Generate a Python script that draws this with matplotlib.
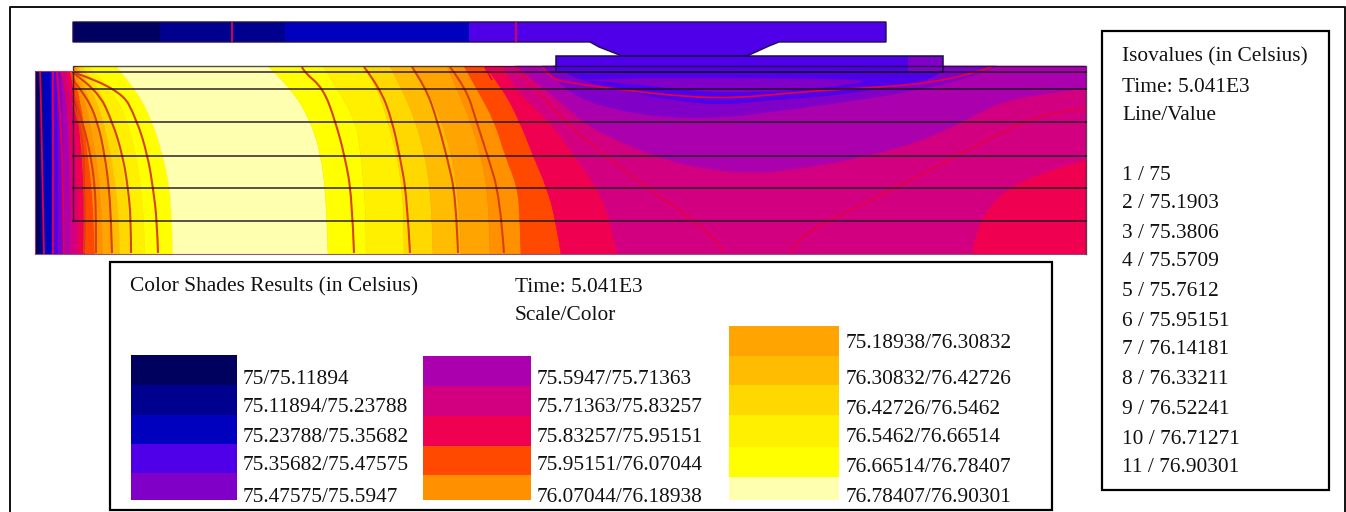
import matplotlib
matplotlib.use('Agg')
import matplotlib.pyplot as plt
from matplotlib.patches import PathPatch, Polygon, Rectangle
from matplotlib.path import Path

plt.rcParams['font.family'] = ['Liberation Serif', 'DejaVu Serif']

# colour shades, lowest to highest
shade_colors = ['#00005f', '#00008f', '#0000bf', '#4f00e8', '#8000c8', '#aa00ae',
                '#d20080', '#f00050', '#ff4800', '#ff9000', '#ffa400', '#ffbc00',
                '#ffd800', '#fff000', '#ffff00', '#ffffb0']

shade_labels_1 = ['75/75.11894', '75.11894/75.23788', '75.23788/75.35682',
                  '75.35682/75.47575', '75.47575/75.5947']
shade_labels_2 = ['75.5947/75.71363', '75.71363/75.83257', '75.83257/75.95151',
                  '75.95151/76.07044', '76.07044/76.18938']
shade_labels_3 = ['75.18938/76.30832', '76.30832/76.42726', '76.42726/76.5462',
                  '76.5462/76.66514', '76.66514/76.78407', '76.78407/76.90301']

iso_header = ['Isovalues (in Celsius)', 'Time: 5.041E3', 'Line/Value']
iso_lines = ['1 / 75', '2 / 75.1903', '3 / 75.3806', '4 / 75.5709', '5 / 75.7612',
             '6 / 75.95151', '7 / 76.14181', '8 / 76.33211', '9 / 76.52241',
             '10 / 76.71271', '11 / 76.90301']

layer_y = [66, 89, 122, 155.5, 188, 221, 254]

# right edge of shades 1..15 on the left wall, one value per layer_y
left_edges = [
    [40, 40, 40, 40, 40, 40, 40],
    [44, 44, 44, 44, 44, 44, 44],
    [51, 51, 52, 52, 52, 52, 52],
    [56, 57, 58, 58, 58, 58, 58],
    [60, 62, 63, 64, 64, 64, 64],
    [63, 66, 68, 69, 70, 70, 70],
    [66, 70, 74, 76, 77, 78, 78],
    [69, 74, 79, 82, 84, 85, 85],
    [72, 78, 84, 88, 92, 94, 95],
    [74, 82, 90, 96, 100, 102, 103],
    [76, 86, 96, 103, 108, 111, 112],
    [78, 92, 104, 111, 116, 119, 120],
    [82, 100, 112, 120, 126, 129, 130],
    [88, 112, 128, 136, 141, 144, 145],
    [116, 136, 153, 163, 170, 172, 173],
]

# right edge of shades 16 down to 8 going towards the plate
right_edges = [
    [268, 292, 311, 321, 325, 327, 328],
    [323, 338, 356, 361, 364, 366, 366],
    [364, 378, 388, 397, 402, 404, 404],
    [390, 402, 416, 425, 430, 432, 433],
    [413, 428, 442, 452, 457, 460, 461],
    [447, 457, 471, 481, 487, 489, 490],
    [464, 477, 495, 505, 518, 520, 521],
    [485, 503, 520, 533, 547, 556, 561],
    [502, 513, 550, 573, 597, 610, 617],
]

# closed regions under the plate and at the far right
bowl_6 = [(515, 66), (551, 93), (583, 123), (622, 143), (665, 160), (711, 170), (754, 173),
          (790, 170), (851, 160), (915, 143), (961, 123), (997, 103), (1033, 95), (1086, 88)]
bowl_5 = [(542, 66), (567, 92), (603, 107), (657, 117), (720, 118), (770, 112), (837, 103),
          (903, 93), (970, 78), (997, 66)]
bowl_4 = [(553, 66), (570, 77), (620, 90), (670, 100), (720, 105), (770, 100), (820, 97),
          (870, 90), (920, 83), (943, 72), (945, 66)]
inner_5 = [(585, 80), (640, 84), (700, 92), (770, 92), (830, 87), (880, 80), (760, 78), (650, 78)]
corner_8 = [(972, 254), (976, 230), (994, 200), (1026, 177), (1086, 160)]

slab_outline = [(35, 71), (73, 71), (73, 66), (1086, 66), (1086, 254), (35, 254)]

top_plate_edges = [73, 160, 285, 469, 886]
top_plate_shades = [0, 1, 2, 3]
plate_outline = [(73, 22), (886, 22), (886, 42), (779, 42), (769, 46), (747, 56), (622, 56),
                 (599, 47), (590, 42), (73, 42)]
lower_plate = [(556, 56), (943, 56), (943, 72), (556, 72)]

mesh_y = [72, 89, 122, 155.5, 188, 221]

# isolines, dark ones on the warm side and crimson ones in the purple part
iso_warm = [
    [(75, 73), (120, 88), (137, 120), (148, 157), (153, 188), (157, 220), (158, 253)],
    [(73, 73), (97, 89), (113, 123), (123, 157), (128, 188), (131, 220), (131, 253)],
    [(73, 80), (87, 97), (98, 123), (105, 157), (109, 188), (111, 220), (112, 253)],
    [(73, 93), (83, 123), (91, 157), (95, 188), (96, 220), (96, 253)],
    [(73, 103), (80, 123), (84, 157), (84, 188), (85, 220), (84, 253)],
    [(302, 67), (304, 72), (323, 88), (335, 120), (345, 157), (352, 197), (354, 253)],
    [(364, 67), (380, 88), (392, 120), (400, 157), (407, 197), (410, 253)],
    [(412, 67), (426, 88), (437, 120), (447, 157), (456, 197), (458, 253)],
    [(450, 67), (466, 88), (476, 120), (488, 157), (500, 197), (504, 253)],
]
iso_cool = [
    [(40, 71), (41, 100), (42, 160), (44, 254)],
    [(53, 71), (53, 150), (53, 254)],
    [(57, 71), (60, 110), (63, 170), (64, 254)],
    [(62, 71), (68, 100), (72, 130), (74, 221)],
    [(485, 67), (492, 80)],
    [(515, 67), (538, 92), (565, 122), (605, 156), (649, 189), (694, 221), (719, 243), (724, 253)],
    [(543, 67), (550, 78), (570, 83), (623, 90), (687, 97), (737, 98), (790, 93), (844, 89),
     (915, 85), (969, 75), (992, 67)],
    [(790, 253), (797, 240), (827, 221), (894, 189), (956, 156), (1022, 122), (1054, 112), (1086, 109)],
    [(232, 22), (232, 42)],
    [(516, 22), (516, 42)],
]

swatch_col_1 = [355, 385, 415, 444, 473, 500]
swatch_col_2 = [356, 386, 416, 446, 475, 500]
swatch_col_3 = [326, 356, 385, 415, 447, 477, 500]


def curve_through(points):
    # quadratic pieces with the read points as control points
    verts = [points[0]]
    codes = [Path.MOVETO]
    for i in range(1, len(points) - 1):
        verts.append(points[i])
        if i < len(points) - 2:
            nxt = ((points[i][0] + points[i + 1][0]) / 2, (points[i][1] + points[i + 1][1]) / 2)
        else:
            nxt = points[i + 1]
        verts.append(nxt)
        codes += [Path.CURVE3, Path.CURVE3]
    if len(points) == 2:
        verts.append(points[1])
        codes.append(Path.LINETO)
    return verts, codes


def region(points, color, close_pts=()):
    # curved region, the closing points are joined with straight lines
    verts, codes = curve_through(points)
    for p in close_pts:
        verts.append(p)
        codes.append(Path.LINETO)
    verts.append(verts[0])
    codes.append(Path.CLOSEPOLY)
    patch = PathPatch(Path(verts, codes), facecolor=color, edgecolor=color, linewidth=0.3)
    ax.add_patch(patch)
    return patch


def band(edge_a, edge_b, color):
    pts_a = list(zip(edge_a, layer_y))
    pts_b = list(zip(edge_b, layer_y))[::-1]
    verts_a, codes_a = curve_through(pts_a)
    verts_b, codes_b = curve_through(pts_b)
    codes_b[0] = Path.LINETO
    verts = verts_a + verts_b + [verts_a[0]]
    codes = codes_a + codes_b + [Path.CLOSEPOLY]
    patch = PathPatch(Path(verts, codes), facecolor=color, edgecolor=color, linewidth=0.4)
    ax.add_patch(patch)
    patch.set_clip_path(slab_clip)


def curve_line(points, color, lw):
    verts, codes = curve_through(points)
    ax.add_patch(PathPatch(Path(verts, codes), facecolor='none', edgecolor=color, linewidth=lw))


fig = plt.figure(figsize=(13.46, 5.12), dpi=100)
ax = fig.add_axes([0, 0, 1, 1])
ax.set_xlim(0, 1346)
ax.set_ylim(512, 0)
ax.axis('off')

slab_clip = Polygon(slab_outline, closed=True, transform=ax.transData)

# base shade of the slab, everything else is painted on top
ax.add_patch(Polygon(slab_outline, closed=True, facecolor=shade_colors[6], edgecolor='none'))

prev = [35] * len(layer_y)
for i, edge in enumerate(left_edges):
    band(prev, edge, shade_colors[i])
    prev = edge
for i, edge in enumerate(right_edges):
    band(prev, edge, shade_colors[15 - i])
    prev = edge

region(corner_8, shade_colors[7], [(1086, 254)])
region(bowl_6, shade_colors[5], [(1086, 66)])
region(bowl_5, shade_colors[4])
region(bowl_4, shade_colors[3])
region(inner_5, shade_colors[4])

# top plate
ax.add_patch(Polygon(plate_outline, closed=True, facecolor=shade_colors[3], edgecolor='none'))
for i, s in enumerate(top_plate_shades):
    ax.add_patch(Rectangle((top_plate_edges[i], 22), top_plate_edges[i + 1] - top_plate_edges[i], 20,
                           facecolor=shade_colors[s], edgecolor='none'))
ax.add_patch(Polygon(plate_outline, closed=True, facecolor='none', edgecolor='#20104a', linewidth=1.0))

ax.add_patch(Polygon(lower_plate, closed=True, facecolor=shade_colors[3], edgecolor='none'))
ax.add_patch(Rectangle((908, 56), 35, 16, facecolor=shade_colors[4], edgecolor='none'))
ax.add_patch(Polygon(lower_plate, closed=True, facecolor='none', edgecolor='#15104a', linewidth=1.1))

# isolines
for line in iso_warm:
    curve_line(line, '#d8400f', 1.5)
for line in iso_cool:
    curve_line(line, '#e6004a', 1.3)

# mesh lines
for y in mesh_y:
    ax.plot([73, 1086], [y, y], color='#1a1020', linewidth=1.2, alpha=0.85)
ax.plot([73, 73, 1086, 1086], [221, 66, 66, 254], color='#1a1020', linewidth=1.0, alpha=0.75)
ax.plot([35, 1086], [254, 254], color='#6a3060', linewidth=0.8, alpha=0.8)
ax.plot([35, 35, 73], [254, 71, 71], color='#c04060', linewidth=0.8, alpha=0.8)

# frames
ax.plot([10, 10, 1345, 1345], [512, 7, 7, 512], color='#111111', linewidth=1.4)
ax.add_patch(Rectangle((110, 262), 942, 248, facecolor='white', edgecolor='black', linewidth=1.6))
ax.add_patch(Rectangle((1102, 31), 227, 459, facecolor='white', edgecolor='black', linewidth=1.6))

# legend swatches
for i in range(5):
    ax.add_patch(Rectangle((131, swatch_col_1[i]), 106, swatch_col_1[i + 1] - swatch_col_1[i],
                           facecolor=shade_colors[i], edgecolor='none'))
    ax.add_patch(Rectangle((423, swatch_col_2[i]), 108, swatch_col_2[i + 1] - swatch_col_2[i],
                           facecolor=shade_colors[5 + i], edgecolor='none'))
for i in range(6):
    ax.add_patch(Rectangle((729, swatch_col_3[i]), 110, swatch_col_3[i + 1] - swatch_col_3[i],
                           facecolor=shade_colors[10 + i], edgecolor='none'))

# legend text
fs = 15.4
ax.text(130, 287, 'Color Shades Results (in Celsius)', fontsize=fs, va='center', color='#111111')
ax.text(515, 287, 'Time: 5.041E3', fontsize=fs, va='center', color='#111111')
ax.text(515, 316, 'Scale/Color', fontsize=fs, va='center', color='#111111')

for label, y in zip(shade_labels_1, [379, 408, 437, 466, 497]):
    ax.text(243, y, label, fontsize=fs, va='center', color='#111111')
for label, y in zip(shade_labels_2, [379, 408, 437, 466, 497]):
    ax.text(537, y, label, fontsize=fs, va='center', color='#111111')
for label, y in zip(shade_labels_3, [344, 380, 409, 438, 468, 497]):
    ax.text(846, y, label, fontsize=fs, va='center', color='#111111')

for label, y in zip(iso_header, [57, 87, 116]):
    ax.text(1122, y, label, fontsize=fs, va='center', color='#111111')
for label, y in zip(iso_lines, [175, 204, 233, 262, 292, 321, 350, 380, 409, 439, 467]):
    ax.text(1122, y, label, fontsize=fs, va='center', color='#111111')

fig.savefig('out.png', dpi=100)
